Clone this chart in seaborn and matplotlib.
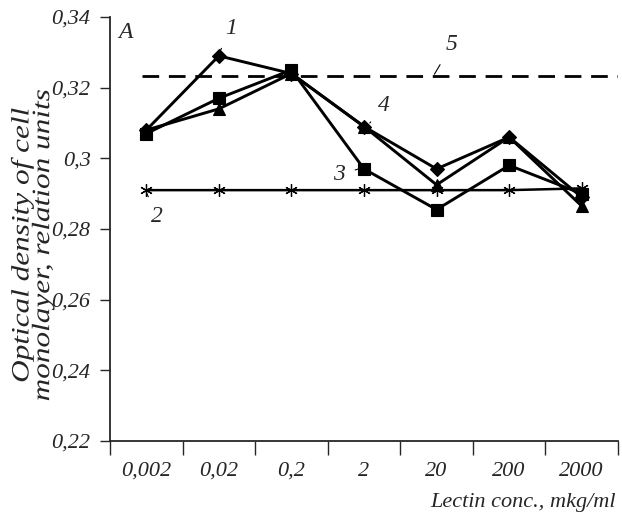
import numpy as np
import pandas as pd
import seaborn as sns
import matplotlib
matplotlib.use("Agg")
import matplotlib.pyplot as plt
from matplotlib.patheffects import AbstractPathEffect
from matplotlib.transforms import Affine2D

# ---- data ----
conc_labels = ["0,002", "0,02", "0,2", "2", "20", "200", "2000"]
series1 = [0.308, 0.329, 0.324, 0.309, 0.297, 0.306, 0.289]
series2 = [0.291, 0.291, 0.291, 0.291, 0.291, 0.291, 0.2915]
series3 = [0.307, 0.317, 0.325, 0.297, 0.2855, 0.298, 0.290]
series4 = [0.308, 0.314, 0.324, 0.309, 0.2925, 0.306, 0.2865]
control_level = 0.3233
y_ticks = [0.22, 0.24, 0.26, 0.28, 0.30, 0.32, 0.34]
y_tick_labels = ["0,22", "0,24", "0,26", "0,28", "0,3", "0,32", "0,34"]

sns.set_style("ticks")
plt.rcParams['font.family'] = ['Liberation Serif', 'DejaVu Serif']
plt.rcParams['font.style'] = 'italic'


class Stretch(AbstractPathEffect):
    """Widen glyphs along the baseline, about the centre of each line."""
    def __init__(self, factor=1.25):
        super().__init__()
        self.f = factor

    def draw_path(self, renderer, gc, tpath, affine, rgbFace=None):
        v = tpath.vertices
        cx = (v[:, 0].min() + v[:, 0].max()) / 2 if len(v) else 0
        t = Affine2D().translate(-cx, 0).scale(self.f, 1).translate(cx, 0)
        renderer.draw_path(gc, tpath, t + affine, rgbFace)


fig = plt.figure(figsize=(6.22, 5.21), dpi=100)
ax = fig.add_axes([110/622, 1 - 441/521, 508/622, (441-17)/521])

pos = np.arange(len(conc_labels))
df = pd.DataFrame({"pos": pos, "s1": series1, "s2": series2,
                   "s3": series3, "s4": series4})

common = dict(color="k", linewidth=2.1, markeredgecolor="k", ax=ax)
sns.lineplot(data=df, x="pos", y="s2", marker=(6, 2, 0), markersize=9,
             markeredgewidth=0.9, **{**common, "linewidth": 1.8})
sns.lineplot(data=df, x="pos", y="s1", marker="D", markersize=7,
             markeredgewidth=0.8, **common)
sns.lineplot(data=df, x="pos", y="s4", marker="^", markersize=9,
             markeredgewidth=0.8, **common)
sns.lineplot(data=df, x="pos", y="s3", marker="s", markersize=8,
             markeredgewidth=0.8, **common)
ax.axhline(control_level, xmin=(142-110)/508, xmax=1.0, color="k",
           linewidth=2.0, dashes=(6, 3.5))

ax.set_xlim(-0.5, len(conc_labels) - 0.5)
ax.set_ylim(0.22, 0.34)
ax.set_yticks(y_ticks)
ax.set_yticklabels(y_tick_labels)
ax.set_xticks(np.arange(-0.5, len(conc_labels), 1.0))
ax.set_xticklabels([])
ax.set_xticks(pos, minor=True)
ax.set_xticklabels(conc_labels, minor=True)
ax.tick_params(axis="x", which="major", direction="out", length=10, width=1)
ax.tick_params(axis="x", which="minor", length=0, pad=15, labelsize=16)
ax.tick_params(axis="y", direction="out", length=7, width=1, labelsize=16, pad=7)
for sp in ["top", "right"]:
    ax.spines[sp].set_visible(False)
for sp in ["left", "bottom"]:
    ax.spines[sp].set_linewidth(1.3)

ax.set_xlabel("")
yl = ax.set_ylabel("Optical density of cell\nmonolayer, relation units",
                   fontsize=18, linespacing=0.92)
ax.yaxis.set_label_coords(-0.110, 0.462)
yl.set_path_effects([Stretch(1.25)])
fig.text(616/622, 1 - 502/521, "Lectin conc., mkg/ml", ha="right",
         va="center", fontsize=16)

# curve labels
ax.text(-0.28, 0.3355, "A", fontsize=17, ha="center", va="center")
lab = dict(fontsize=17, ha="center", va="center",
           arrowprops=dict(arrowstyle="-", color="k", lw=0.8,
                           shrinkA=5, shrinkB=0))
for txt, tip, xyt in [("1", (1.0, 0.3296), (1.17, 0.3368)),
                      ("5", (3.97, 0.3238), (4.21, 0.3321)),
                      ("4", (3.08, 0.3100), (3.28, 0.3150)),
                      ("3", (2.97, 0.2973), (2.66, 0.2953)),
                      ("2", (0.0, 0.2905), (0.14, 0.2834))]:
    ax.annotate(txt, xy=tip, xytext=xyt, **lab)

fig.savefig("out.png", dpi=100)
